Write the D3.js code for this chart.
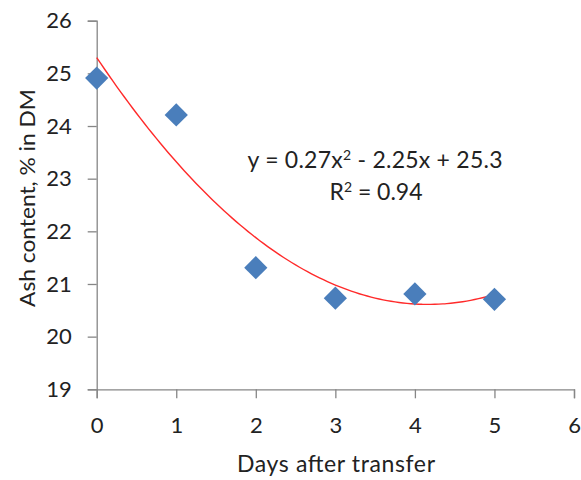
<!DOCTYPE html>
<html>
<head>
<meta charset="utf-8">
<script src="https://cdn.jsdelivr.net/npm/d3@7"></script>
<style>
  body { margin: 0; background: #fff; }
  svg text { font-family: Lato, "Open Sans", sans-serif; fill: #222; }
</style>
</head>
<body>
<svg id="chart" width="581" height="480"></svg>
<script>
// Ash content over days after transfer
const days = [0, 1, 2, 3, 4, 5];
const ash = [24.91, 24.21, 21.31, 20.73, 20.81, 20.71];
const xTicks = [0, 1, 2, 3, 4, 5, 6];
const yTicks = [19, 20, 21, 22, 23, 24, 25, 26];
// quadratic trendline coefficients: y = a x^2 + b x + c
const trendCoef = [0.27, -2.25, 25.3];
const r2Value = "0.94";

const svg = d3.select("#chart");
const x = d3.scaleLinear().domain([0, 6]).range([96.7, 574]);
const y = d3.scaleLinear().domain([19, 26]).range([389.3, 20.7]);
const axisColor = "#868686";
const font = "Lato, 'Open Sans', sans-serif";

// y axis
const gy = svg.append("g").attr("transform", `translate(${x(0)},0)`)
  .call(d3.axisLeft(y).tickValues(yTicks).tickSize(9).tickPadding(16).tickFormat(d3.format("d")));
// x axis
const gx = svg.append("g").attr("transform", `translate(0,${y(19)})`)
  .call(d3.axisBottom(x).tickValues(xTicks).tickSize(9).tickPadding(19).tickFormat(d3.format("d")));

[gx, gy].forEach(g => {
  g.select(".domain").attr("stroke", axisColor).attr("stroke-width", 1.3);
  g.selectAll(".tick line").attr("stroke", axisColor).attr("stroke-width", 1.3);
  g.selectAll(".tick text").attr("font-size", 22).attr("font-family", font).attr("fill", "#222");
});

// trendline
const [a, b, c] = trendCoef;
const curvePts = d3.range(0, 5.0001, 0.05).map(t => [t, a * t * t + b * t + c]);
svg.append("path")
  .datum(curvePts)
  .attr("fill", "none")
  .attr("stroke", "#ff2a2a")
  .attr("stroke-width", 1.4)
  .attr("d", d3.line().x(d => x(d[0])).y(d => y(d[1])).curve(d3.curveMonotoneX));

// data markers (diamonds)
const diamond = d3.symbol().type(d3.symbolSquare).size(270);
svg.append("g").selectAll("path")
  .data(days.map((d, i) => [d, ash[i]]))
  .join("path")
  .attr("d", diamond)
  .attr("transform", d => `translate(${x(d[0])},${y(d[1])}) rotate(45)`)
  .attr("fill", "#4a7ebb");

// trendline equation
const eq = svg.append("text").attr("x", 375).attr("y", 168).attr("text-anchor", "middle")
  .attr("font-size", 23).attr("textLength", 255);
eq.append("tspan").text(`y = ${a}x`);
eq.append("tspan").attr("font-size", 14).attr("dy", -8).text("2");
eq.append("tspan").attr("dy", 8).text(` - ${Math.abs(b)}x + ${c}`);

const r2 = svg.append("text").attr("x", 376).attr("y", 200).attr("text-anchor", "middle")
  .attr("font-size", 23).attr("textLength", 93);
r2.append("tspan").text("R");
r2.append("tspan").attr("font-size", 14).attr("dy", -8).text("2");
r2.append("tspan").attr("dy", 8).text(` = ${r2Value}`);

// axis titles
svg.append("text").attr("x", 336).attr("y", 472).attr("text-anchor", "middle")
  .attr("font-size", 23).attr("textLength", 198).text("Days after transfer");
svg.append("text").attr("transform", "translate(35,198) rotate(-90)")
  .attr("text-anchor", "middle").attr("font-size", 22).attr("textLength", 218)
  .attr("lengthAdjust", "spacingAndGlyphs").text("Ash content, % in DM");
</script>
</body>
</html>
